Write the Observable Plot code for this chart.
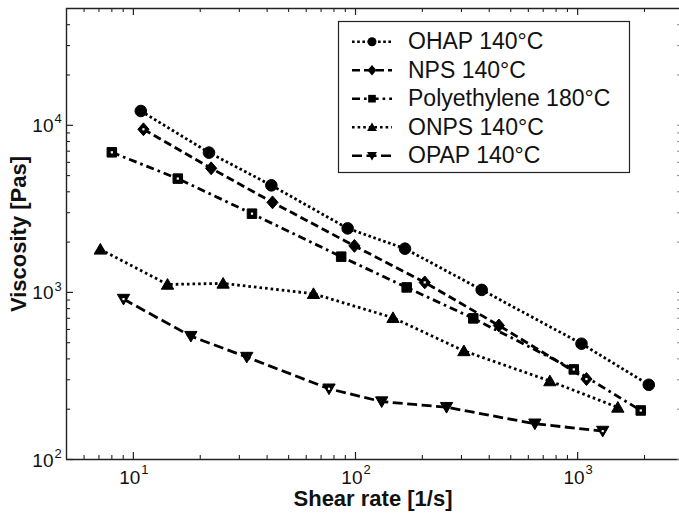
<!DOCTYPE html>
<html><head><meta charset="utf-8">
<script src="https://cdn.jsdelivr.net/npm/d3@7"></script>
<script src="https://cdn.jsdelivr.net/npm/@observablehq/plot@0.6"></script>
<style>body{margin:0;background:#fff;} svg{display:block}</style>
</head><body><div id="chart"></div>
<script>
// ---- data ----
const seriesNames = ["OHAP 140°C", "NPS 140°C", "Polyethylene 180°C", "ONPS 140°C", "OPAP 140°C"];
const ohapRate = [10.8, 21.9, 41.8, 92.2, 167, 370, 1041, 2091];
const ohapVisc = [12180, 6865, 4373, 2416, 1827, 1035, 493, 280];
const npsRate  = [11.1, 22.4, 42.3, 98.9, 205, 442, 1096];
const npsVisc  = [9465, 5528, 3459, 1898, 1148, 634, 303];
const peRate   = [8.0, 15.85, 34.2, 86.2, 170, 339, 961, 1924];
const peVisc   = [6893, 4797, 2959, 1636, 1071, 699, 346, 196.5];
const onpsRate = [7.1, 14.25, 25.35, 64.7, 147.5, 307.6, 750, 1517];
const onpsVisc = [1810, 1116, 1132, 982, 705, 446.5, 295, 205];
const opapRate = [9.03, 18.15, 32.4, 76.0, 131.2, 257, 642, 1297];
const opapVisc = [912, 547, 410, 265, 222, 205.5, 163.6, 148];
const xTickExponents = [1, 2, 3];
const yTickExponents = [2, 3, 4];
const xMinorTicks = [6,7,8,9,20,30,40,50,60,70,80,90,200,300,400,500,600,700,800,900,2000];
const yMinorTicks = [200,300,400,500,600,700,800,900,2000,3000,4000,5000,6000,7000,8000,9000,20000,30000,40000];
const xAxisTitle = "Shear rate [1/s]";
const yAxisTitle = "Viscosity [Pas]";

// ---- styles (kept apart from data) ----
const W = 679, H = 513, mL = 66, mT = 8, mB = 54, mR = 0;
const innerW = W - mL - mR, innerH = H - mT - mB;
const FONT = "Liberation Sans, Arial, Helvetica, sans-serif";

const sym = {
  circle: {draw(c, s) { const r = Math.sqrt(s / Math.PI); c.moveTo(r, 0); c.arc(0, 0, r, 0, 2 * Math.PI); c.closePath(); }},
  diamond: {draw(c, s) { const r = Math.sqrt(s / Math.PI); c.moveTo(0, -r * 1.15); c.lineTo(r, 0); c.lineTo(0, r * 1.15); c.lineTo(-r, 0); c.closePath(); }},
  square: {draw(c, s) { const r = Math.sqrt(s / Math.PI) * 0.85; c.moveTo(-r, -r); c.lineTo(r, -r); c.lineTo(r, r); c.lineTo(-r, r); c.closePath(); }},
  triUp: {draw(c, s) { const r = Math.sqrt(s / Math.PI); c.moveTo(0, -r * 1.05); c.lineTo(r * 1.1, r * 0.85); c.lineTo(-r * 1.1, r * 0.85); c.closePath(); }},
  triDown: {draw(c, s) { const r = Math.sqrt(s / Math.PI); c.moveTo(0, r * 1.05); c.lineTo(r * 1.1, -r * 0.85); c.lineTo(-r * 1.1, -r * 0.85); c.closePath(); }}
};
const seriesStyle = [
  {symbol: sym.circle,  r: 5.8, dash: "2.6,2.6",   hollow: []},
  {symbol: sym.diamond, r: 5.6, dash: "8,4",       hollow: [0, 4, 6]},
  {symbol: sym.square,  r: 5.6, dash: "8,4,2.6,4", hollow: [0, 1, 2, 6, 7]},
  {symbol: sym.triUp,   r: 5.6, dash: "2.6,3",     hollow: []},
  {symbol: sym.triDown, r: 5.6, dash: "10,4.5",    hollow: [0, 3, 7]}
];

const rates = [ohapRate, npsRate, peRate, onpsRate, opapRate];
const viscs = [ohapVisc, npsVisc, peVisc, onpsVisc, opapVisc];
const tables = seriesNames.map((name, s) => rates[s].map((x, i) => ({name, x, y: viscs[s][i], i})));

const xMajor = xTickExponents.map(e => 10 ** e);
const yMajor = yTickExponents.map(e => 10 ** e);

const marks = [];
// frame (left, top, bottom)
marks.push(Plot.ruleY([100, 50000], {stroke: "#222", strokeWidth: 1.4}));
marks.push(Plot.ruleX([5], {stroke: "#222", strokeWidth: 1.4}));
// inward ticks
marks.push(Plot.ruleX(xMajor, {insetTop: innerH - 7, stroke: "#222", strokeWidth: 1.2}));
marks.push(Plot.ruleX(xMinorTicks, {insetTop: innerH - 4, stroke: "#222", strokeWidth: 1.1}));
marks.push(Plot.ruleX(xMajor, {insetBottom: innerH - 7, stroke: "#222", strokeWidth: 1.2}));
marks.push(Plot.ruleX(xMinorTicks, {insetBottom: innerH - 4, stroke: "#222", strokeWidth: 1.1}));
marks.push(Plot.ruleY(yMajor, {insetRight: innerW - 7, stroke: "#222", strokeWidth: 1.2}));
marks.push(Plot.ruleY(yMinorTicks, {insetRight: innerW - 4, stroke: "#222", strokeWidth: 1.1}));
marks.push(Plot.ruleY(yMajor.concat(yMinorTicks), {insetLeft: innerW - 2, stroke: "#888", strokeWidth: 1}));
// tick labels
marks.push(Plot.text(xMajor, {x: d => d, frameAnchor: "bottom", text: () => "10", dy: 18, dx: 7, textAnchor: "end", lineAnchor: "middle", fontSize: 19, fill: "#111"}));
marks.push(Plot.text(xMajor, {x: d => d, frameAnchor: "bottom", text: (d, i) => String(xTickExponents[i]), dy: 10.5, dx: 8, textAnchor: "start", lineAnchor: "middle", fontSize: 13, fill: "#111"}));
marks.push(Plot.text(yMajor, {y: d => d, frameAnchor: "left", text: () => "10", dx: -13, dy: 1, textAnchor: "end", lineAnchor: "middle", fontSize: 19, fill: "#111"}));
marks.push(Plot.text(yMajor, {y: d => d, frameAnchor: "left", text: (d, i) => String(yTickExponents[i]), dx: -12, dy: -6, textAnchor: "start", lineAnchor: "middle", fontSize: 13, fill: "#111"}));
// axis titles
marks.push(Plot.text([xAxisTitle], {frameAnchor: "bottom", text: d => d, dy: 39.5, textAnchor: "middle", lineAnchor: "middle", fontSize: 22, fontWeight: "bold", fill: "#111"}));
marks.push(Plot.text([yAxisTitle], {frameAnchor: "left", text: d => d, dx: -48, rotate: -90, textAnchor: "middle", lineAnchor: "middle", fontSize: 22, fontWeight: "bold", fill: "#111"}));
// series
tables.forEach((t, s) => {
  const st = seriesStyle[s];
  marks.push(Plot.line(t, {x: "x", y: "y", stroke: "black", strokeWidth: 2.8, strokeDasharray: st.dash, strokeLinecap: "butt"}));
});
tables.forEach((t, s) => {
  const st = seriesStyle[s];
  marks.push(Plot.dot(t, {x: "x", y: "y", symbol: st.symbol, r: st.r, fill: "black", stroke: "black", strokeWidth: 1}));
  const hol = t.filter(d => st.hollow.includes(d.i));
  if (hol.length) marks.push(Plot.dot(hol, {x: "x", y: "y", symbol: sym.square, r: 1.3, fill: "white", stroke: "none"}));
});

const chart = Plot.plot({
  width: W, height: H,
  marginLeft: mL, marginTop: mT, marginBottom: mB, marginRight: mR,
  x: {type: "log", domain: [5, 2875], axis: null},
  y: {type: "log", domain: [100, 50000], axis: null},
  style: {fontFamily: FONT, background: "white", overflow: "visible"},
  marks
});
document.getElementById("chart").appendChild(chart);

// ---- legend ----
const svg = d3.select(chart);
const lg = svg.append("g");
lg.append("rect").attr("x", 338.5).attr("y", 21.5).attr("width", 291).attr("height", 151)
  .attr("fill", "white").attr("stroke", "#222").attr("stroke-width", 1.2);
seriesNames.forEach((name, s) => {
  const st = seriesStyle[s];
  const cy = 41.7 + 28.5 * s;
  lg.append("line").attr("x1", 352).attr("x2", 392).attr("y1", cy).attr("y2", cy)
    .attr("stroke", "black").attr("stroke-width", 2.5).attr("stroke-dasharray", st.dash);
  const p = d3.path();
  st.symbol.draw(p, Math.PI * 4.5 * 4.5);
  lg.append("path").attr("d", p.toString()).attr("transform", `translate(372,${cy})`).attr("fill", "black");
  lg.append("text").attr("x", 408).attr("y", cy + 7.5).attr("font-size", 23).attr("font-family", FONT)
    .attr("text-anchor", "start").attr("fill", "#111").text(name);
});
</script>
</body></html>
